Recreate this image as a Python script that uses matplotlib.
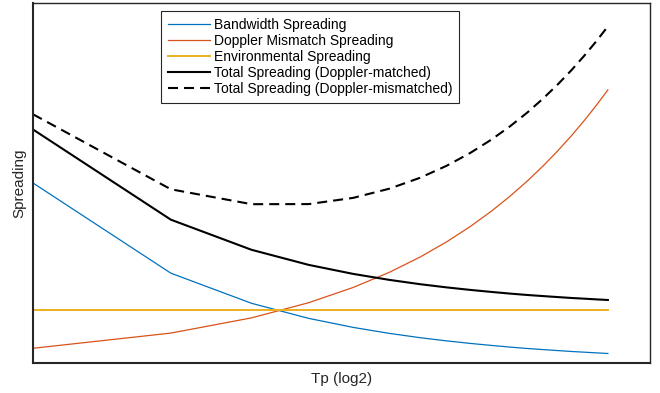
import matplotlib
matplotlib.use("Agg")
import matplotlib.pyplot as plt

plt.rcParams['font.family'] = ['Liberation Sans', 'DejaVu Sans']

# Pulse duration Tp (plotted on a log2 axis)
tp = [1, 2, 3, 4, 5, 6, 7, 8, 9, 10, 11, 12, 13, 14, 15, 16, 17, 18]

bandwidth = [1.805, 0.903, 0.602, 0.451, 0.361, 0.301, 0.258, 0.226, 0.201,
             0.181, 0.164, 0.150, 0.139, 0.129, 0.120, 0.113, 0.106, 0.100]
doppler_mismatch = [0.152, 0.304, 0.456, 0.608, 0.760, 0.912, 1.064, 1.216, 1.368,
                    1.520, 1.672, 1.824, 1.976, 2.128, 2.280, 2.432, 2.584, 2.736]
environmental = [0.535] * len(tp)
total_matched = [2.340, 1.438, 1.137, 0.986, 0.896, 0.836, 0.793, 0.761, 0.736,
                 0.716, 0.699, 0.685, 0.674, 0.664, 0.655, 0.648, 0.641, 0.635]
total_mismatched = [2.492, 1.742, 1.593, 1.594, 1.656, 1.748, 1.857, 1.977, 2.104,
                    2.236, 2.371, 2.509, 2.650, 2.792, 2.935, 3.080, 3.225, 3.371]

fig = plt.figure(figsize=(6.6, 3.93), dpi=100)
ax = fig.add_axes([0.05, 0.0751, 0.9356, 0.9173])

ax.plot(tp, bandwidth, color='#0072BD', lw=0.9, label='Bandwidth Spreading')
ax.plot(tp, doppler_mismatch, color='#D95319', lw=0.9, label='Doppler Mismatch Spreading')
ax.plot(tp, environmental, color='#EDB120', lw=1.4, label='Environmental Spreading')
ax.plot(tp, total_matched, color='black', lw=1.5, label='Total Spreading (Doppler-matched)')
ax.plot(tp, total_mismatched, color='black', lw=1.5, ls=(0, (4.8, 2.9)),
        label='Total Spreading (Doppler-mismatched)')

ax.set_xscale('log', base=2)
ax.set_xlim(1, 22.3)
ax.set_ylim(0, 3.605)
ax.set_xticks([])
ax.set_yticks([])
ax.minorticks_off()
ax.tick_params(which='both', length=0)

for side in ['left', 'bottom']:
    ax.spines[side].set_linewidth(1.5)
    ax.spines[side].set_color('#262626')
for side in ['top', 'right']:
    ax.spines[side].set_linewidth(1.0)
    ax.spines[side].set_color('#262626')

ax.set_xlabel('Tp (log2)', fontsize=11, color='#262626', labelpad=6)
ax.set_ylabel('Spreading', fontsize=11, color='#262626', labelpad=5)

leg = ax.legend(loc='upper left', bbox_to_anchor=(161 / 660, 1 - 11 / 393),
                bbox_transform=fig.transFigure, fontsize=10, frameon=True,
                fancybox=False, edgecolor='#262626', framealpha=1,
                borderaxespad=0, borderpad=0.5, labelspacing=0.15,
                handlelength=3.0, handletextpad=0.3)
leg.get_frame().set_linewidth(0.8)

fig.savefig('out.png', dpi=100)
